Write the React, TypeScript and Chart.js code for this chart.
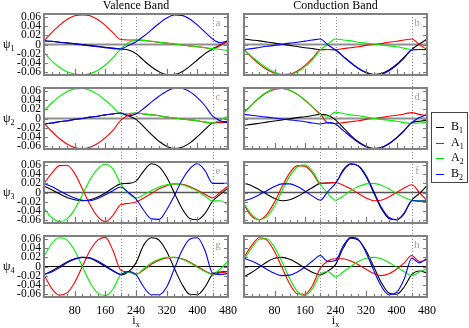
import React, { useEffect, useRef } from 'react';
import { Chart, registerables } from 'chart.js';
Chart.register(...registerables);

// ---------- data ----------
const ix = [0, 20, 40, 60, 80, 100, 120, 140, 160, 180, 200, 220, 240, 260, 280, 300, 320, 340, 360, 380, 400, 420, 440, 460, 480];
const xTicks = [80, 160, 240, 320, 400, 480];
const yTicks = [-0.06, -0.04, -0.02, 0, 0.02, 0.04, 0.06];
const markers = [200, 240, 440];
const seriesNames = ['B1', 'A1', 'A2', 'B2'];
const seriesColors = ['#000000', '#ff0000', '#00ee00', '#0000ff'];
const legendLabels = [['B', '1'], ['A', '1'], ['A', '2'], ['B', '2']];
const columnTitles = ['Valence Band', 'Conduction Band'];
const panelLetters = ['a', 'b', 'c', 'd', 'e', 'f', 'g', 'h'];

// panel a (valence, psi1)
const aB1 = [0.008, 0.007, 0.005, 0.004, 0.002, 0.000, -0.002, -0.004, -0.006, -0.008, -0.010, -0.012, -0.020, -0.035, -0.049, -0.060, -0.066, -0.066, -0.060, -0.048, -0.034, -0.020, -0.010, -0.001, 0.008];
const aA1 = [0.008, 0.026, 0.042, 0.055, 0.063, 0.065, 0.063, 0.055, 0.042, 0.026, 0.011, 0.010, 0.010, 0.009, 0.007, 0.005, 0.003, 0.001, -0.001, -0.003, -0.005, -0.007, -0.010, -0.002, 0.007];
const aA2 = [-0.018, -0.036, -0.050, -0.060, -0.065, -0.066, -0.064, -0.057, -0.045, -0.029, -0.010, 0.004, 0.010, 0.009, 0.007, 0.005, 0.003, 0.001, -0.001, -0.003, -0.005, -0.007, -0.009, -0.011, -0.013];
const aB2 = [0.008, 0.007, 0.005, 0.003, 0.001, -0.001, -0.003, -0.005, -0.007, -0.009, -0.010, -0.002, 0.006, 0.018, 0.032, 0.046, 0.058, 0.065, 0.064, 0.056, 0.043, 0.027, 0.012, 0.004, 0.008];
// panel b (conduction, psi1)
const bB1 = [0.012, 0.010, 0.008, 0.0055, 0.003, 0.0005, -0.002, -0.0045, -0.007, -0.009, -0.011, -0.011, -0.012, -0.026, -0.040, -0.053, -0.062, -0.066, -0.064, -0.056, -0.044, -0.028, -0.011, 0.001, 0.012];
const bA1 = [-0.011, -0.028, -0.043, -0.055, -0.063, -0.066, -0.065, -0.058, -0.046, -0.030, -0.012, -0.011, -0.011, -0.009, -0.007, -0.005, -0.002, 0.000, 0.002, 0.005, 0.007, 0.010, 0.012, 0.000, -0.011];
const bA2 = [-0.012, -0.026, -0.040, -0.052, -0.061, -0.066, -0.066, -0.060, -0.049, -0.033, -0.012, 0.001, 0.012, 0.010, 0.008, 0.005, 0.003, 0.001, -0.001, -0.003, -0.005, -0.008, -0.011, -0.011, -0.012];
const bB2 = [-0.011, -0.009, -0.0065, -0.004, -0.002, 0.0005, 0.003, 0.005, 0.0075, 0.010, 0.012, -0.001, -0.012, -0.026, -0.040, -0.052, -0.061, -0.066, -0.065, -0.058, -0.046, -0.030, -0.012, -0.011, -0.011];
// panel c (valence, psi2)
const cB1 = [-0.012, -0.010, -0.007, -0.005, -0.002, 0.000, 0.003, 0.005, 0.008, 0.010, 0.012, 0.006, -0.002, -0.018, -0.035, -0.050, -0.061, -0.066, -0.063, -0.054, -0.040, -0.024, -0.010, -0.008, -0.006];
const cA1 = [-0.010, -0.028, -0.044, -0.056, -0.064, -0.066, -0.063, -0.055, -0.042, -0.026, -0.004, 0.007, 0.012, 0.010, 0.008, 0.006, 0.003, 0.001, -0.001, -0.003, -0.005, -0.008, -0.010, -0.009, -0.008];
const cA2 = [0.017, 0.034, 0.048, 0.059, 0.065, 0.066, 0.062, 0.053, 0.040, 0.025, 0.010, 0.011, 0.012, 0.010, 0.008, 0.006, 0.003, 0.001, -0.001, -0.003, -0.005, -0.008, -0.010, -0.003, 0.005];
const cB2 = [-0.012, -0.010, -0.007, -0.005, -0.002, 0.000, 0.003, 0.005, 0.008, 0.010, 0.012, 0.006, 0.010, 0.022, 0.036, 0.049, 0.060, 0.066, 0.066, 0.059, 0.046, 0.028, 0.005, -0.005, -0.009];
// panel d (conduction, psi2)
const dB1 = [-0.015, -0.013, -0.0105, -0.008, -0.0055, -0.003, -0.0005, 0.002, 0.004, 0.0065, 0.009, 0.007, -0.003, -0.020, -0.037, -0.051, -0.061, -0.066, -0.064, -0.056, -0.043, -0.027, -0.009, -0.006, -0.004];
const dA1 = [0.013, 0.030, 0.045, 0.057, 0.064, 0.066, 0.062, 0.053, 0.040, 0.025, 0.010, -0.010, -0.011, -0.009, -0.007, -0.005, -0.002, 0.000, 0.002, 0.005, 0.007, 0.010, 0.013, 0.009, 0.006];
const dA2 = [0.012, 0.030, 0.046, 0.058, 0.065, 0.066, 0.062, 0.053, 0.040, 0.025, 0.008, 0.005, 0.014, 0.011, 0.008, 0.006, 0.003, 0.000, -0.002, -0.004, -0.006, -0.009, -0.011, -0.010, -0.008];
const dB2 = [0.009, 0.007, 0.005, 0.003, 0.001, -0.001, -0.003, -0.005, -0.007, -0.010, -0.012, -0.009, -0.012, -0.026, -0.040, -0.053, -0.062, -0.066, -0.064, -0.055, -0.042, -0.026, -0.009, 0.002, 0.009];
// panel e (valence, psi3)
const eB1 = [0.014, 0.006, -0.003, -0.011, -0.016, -0.018, -0.016, -0.010, -0.001, 0.010, 0.019, 0.020, 0.025, 0.047, 0.063, 0.057, 0.034, -0.001, -0.035, -0.057, -0.060, -0.046, -0.019, -0.004, 0.010];
const eA1 = [0.020, 0.042, 0.059, 0.060, 0.042, 0.008, -0.027, -0.053, -0.064, -0.050, -0.027, -0.024, -0.021, -0.012, -0.002, 0.008, 0.015, 0.019, 0.018, 0.013, 0.005, -0.004, -0.012, 0.001, 0.014];
const eA2 = [-0.035, -0.055, -0.064, -0.058, -0.037, -0.005, 0.028, 0.052, 0.062, 0.052, 0.019, -0.002, -0.012, -0.005, 0.004, 0.012, 0.017, 0.019, 0.017, 0.011, 0.003, -0.008, -0.019, -0.018, -0.027];
const eB2 = [0.020, 0.013, 0.004, -0.005, -0.012, -0.017, -0.018, -0.013, -0.005, 0.004, 0.012, 0.000, -0.014, -0.039, -0.058, -0.059, -0.038, -0.007, 0.027, 0.052, 0.063, 0.048, 0.020, 0.020, 0.020];
// panel f (conduction, psi3)
const fB1 = [0.020, 0.015, 0.006, -0.004, -0.013, -0.018, -0.016, -0.009, 0.001, 0.011, 0.020, 0.021, 0.022, 0.050, 0.063, 0.058, 0.035, 0.000, -0.035, -0.057, -0.060, -0.045, -0.017, -0.002, 0.015];
const fA1 = [-0.027, -0.052, -0.060, -0.048, -0.021, 0.013, 0.043, 0.059, 0.058, 0.042, 0.020, 0.021, 0.022, 0.016, 0.008, -0.002, -0.012, -0.018, -0.017, -0.010, 0.000, 0.010, 0.017, 0.000, -0.018];
const fA2 = [-0.025, -0.048, -0.060, -0.053, -0.030, 0.004, 0.036, 0.056, 0.061, 0.046, 0.018, -0.002, -0.017, -0.008, 0.004, 0.013, 0.019, 0.020, 0.016, 0.008, -0.002, -0.011, -0.017, -0.018, -0.018];
const fB2 = [-0.018, -0.013, -0.005, 0.004, 0.013, 0.019, 0.019, 0.013, 0.003, -0.008, -0.017, 0.002, 0.020, 0.047, 0.062, 0.059, 0.038, 0.003, -0.032, -0.055, -0.060, -0.047, -0.018, -0.019, -0.019];
// panel g (valence, psi4)
const gB1 = [-0.018, -0.010, 0.000, 0.010, 0.017, 0.020, 0.018, 0.010, 0.000, -0.010, -0.018, -0.012, 0.008, 0.047, 0.063, 0.058, 0.033, -0.004, -0.039, -0.061, -0.062, -0.045, -0.017, -0.012, -0.011];
const gA1 = [-0.018, -0.048, -0.063, -0.058, -0.035, 0.000, 0.035, 0.058, 0.064, 0.035, -0.008, -0.012, -0.017, -0.008, 0.005, 0.014, 0.019, 0.020, 0.017, 0.010, 0.000, -0.010, -0.017, -0.014, -0.011];
const gA2 = [0.022, 0.050, 0.063, 0.058, 0.035, 0.000, -0.035, -0.058, -0.064, -0.050, -0.018, -0.012, -0.018, -0.005, 0.008, 0.016, 0.020, 0.020, 0.016, 0.008, -0.002, -0.011, -0.017, -0.005, 0.011];
const gB2 = [-0.018, -0.012, -0.003, 0.008, 0.016, 0.020, 0.019, 0.012, 0.002, -0.009, -0.017, -0.011, -0.018, -0.045, -0.062, -0.062, -0.045, -0.005, 0.035, 0.060, 0.063, 0.035, -0.015, -0.018, -0.015];
// panel h (conduction, psi4)
const hB1 = [-0.022, -0.013, -0.002, 0.010, 0.018, 0.020, 0.016, 0.007, -0.004, -0.013, -0.018, -0.010, 0.004, 0.040, 0.062, 0.058, 0.035, 0.000, -0.035, -0.058, -0.061, -0.045, -0.018, -0.010, -0.014];
const hA1 = [0.020, 0.046, 0.063, 0.058, 0.033, -0.003, -0.038, -0.060, -0.061, -0.041, -0.004, 0.012, 0.017, 0.017, 0.012, 0.004, -0.006, -0.015, -0.020, -0.016, -0.006, 0.008, 0.024, 0.011, 0.015];
const hA2 = [0.015, 0.040, 0.060, 0.061, 0.042, 0.010, -0.027, -0.055, -0.064, -0.048, -0.017, -0.011, -0.023, -0.012, 0.000, 0.011, 0.018, 0.020, 0.017, 0.009, -0.001, -0.011, -0.020, -0.012, -0.004];
const hB2 = [0.018, 0.012, 0.004, -0.006, -0.015, -0.020, -0.019, -0.012, -0.001, 0.012, 0.024, 0.011, 0.013, 0.045, 0.064, 0.059, 0.031, -0.008, -0.043, -0.062, -0.057, -0.028, 0.018, 0.008, 0.018];

const panelData = [
  [aB1, aA1, aA2, aB2], [bB1, bA1, bA2, bB2],
  [cB1, cA1, cA2, cB2], [dB1, dA1, dA2, dB2],
  [eB1, eA1, eA2, eB2], [fB1, fA1, fA2, fB2],
  [gB1, gA1, gA2, gB2], [hB1, hA1, hA2, hB2],
];

// ---------- layout ----------
const W = 469;
const H = 328;
const colLeft = [44, 244];
const colRight = [228, 427];
const rowTop = [14, 88, 162, 236];
const rowH = 61;
const yAxisW = 44;
const xAxisH = 20;
const SERIF = "'Liberation Serif', 'Times New Roman', serif";

function Panel({ idx }: { idx: number }) {
  const ref = useRef<HTMLCanvasElement>(null);
  useEffect(() => {
    const row = Math.floor(idx / 2);
    const col = idx % 2;
    const top = rowTop[row];
    const bottom = top + rowH;
    const isBottom = row === 3;
    const showY = col === 0;
    const padding = {
      left: showY ? colLeft[0] - yAxisW : colLeft[1],
      right: W - colRight[col],
      top,
      bottom: isBottom ? H - bottom - xAxisH : H - bottom,
    };
    const decor = {
      id: 'decor' + idx,
      beforeDatasetsDraw(chart: any) {
        const { ctx, chartArea } = chart;
        const xs = chart.scales.x;
        const ys = chart.scales.y;
        ctx.save();
        if (row === 0) {
          ctx.strokeStyle = '#8a8a8a';
          ctx.lineWidth = 1;
          ctx.setLineDash([1, 2]);
          const yEnd = rowTop[3] + rowH;
          markers.forEach((m) => {
            const px = Math.round(xs.getPixelForValue(m)) + 0.5;
            ctx.beginPath();
            ctx.moveTo(px, chartArea.top);
            ctx.lineTo(px, yEnd);
            ctx.stroke();
          });
          ctx.setLineDash([]);
        }
        const y0 = ys.getPixelForValue(0);
        ctx.strokeStyle = row < 2 ? '#909090' : row === 2 ? '#555' : '#000';
        ctx.lineWidth = row < 2 ? 2 : row === 2 ? 1.5 : 1.2;
        ctx.beginPath();
        ctx.moveTo(chartArea.left, y0);
        ctx.lineTo(chartArea.right, y0);
        ctx.stroke();
        ctx.restore();
      },
      afterDatasetsDraw(chart: any) {
        const { ctx, chartArea } = chart;
        const xs = chart.scales.x;
        const ys = chart.scales.y;
        const { left, right, top: t, bottom: b } = chartArea;
        ctx.save();
        ctx.strokeStyle = '#7a7a7a';
        ctx.lineWidth = 1.2;
        ctx.beginPath();
        yTicks.forEach((v) => {
          const py = Math.round(ys.getPixelForValue(v)) + 0.5;
          ctx.moveTo(left, py);
          ctx.lineTo(left + 4, py);
          ctx.moveTo(right, py);
          ctx.lineTo(right - 4, py);
        });
        for (let v = 20; v < 480; v += 20) {
          const px = Math.round(xs.getPixelForValue(v)) + 0.5;
          const len = v % 80 === 0 ? 6 : 3;
          ctx.moveTo(px, b);
          ctx.lineTo(px, b - len);
        }
        ctx.stroke();
        ctx.strokeStyle = '#808080';
        ctx.lineWidth = 2;
        ctx.strokeRect(left, t, right - left, b - t);
        ctx.fillStyle = '#c09595';
        ctx.font = `11px ${SERIF}`;
        ctx.textAlign = 'center';
        ctx.textBaseline = 'middle';
        ctx.fillText(panelLetters[idx], xs.getPixelForValue(454), t + 9);
        ctx.restore();
      },
    };
    const chart = new Chart(ref.current as HTMLCanvasElement, {
      type: 'line',
      data: {
        datasets: panelData[idx].map((arr, si) => ({
          label: seriesNames[si],
          data: ix.map((x, i) => ({ x, y: arr[i] })),
          borderColor: seriesColors[si],
          backgroundColor: seriesColors[si],
          borderWidth: 1.1,
          pointRadius: 0,
          cubicInterpolationMode: 'monotone' as const,
          fill: false,
          order: 3 - si,
        })),
      },
      options: {
        responsive: false,
        maintainAspectRatio: false,
        animation: false,
        events: [],
        layout: { padding },
        plugins: { legend: { display: false }, tooltip: { enabled: false } },
        scales: {
          x: {
            type: 'linear',
            min: 0,
            max: 480,
            display: isBottom,
            afterBuildTicks: (s: any) => { s.ticks = xTicks.map((v) => ({ value: v })); },
            afterFit: (s: any) => { s.height = isBottom ? xAxisH : 0; },
            grid: { display: false, drawTicks: false },
            border: { display: false },
            ticks: { font: { family: SERIF, size: 12 }, color: '#000', padding: 7, autoSkip: false, maxRotation: 0, callback: (v: any) => String(v) },
          },
          y: {
            type: 'linear',
            min: -0.067,
            max: 0.067,
            display: showY,
            afterBuildTicks: (s: any) => { s.ticks = yTicks.map((v) => ({ value: v })); },
            afterFit: (s: any) => { s.width = showY ? yAxisW : 0; },
            grid: { display: false, drawTicks: false },
            border: { display: false },
            ticks: {
              font: { family: SERIF, size: 11.5 }, color: '#000', padding: 3, autoSkip: false,
              callback: (v: any) => (Math.abs(v) < 1e-9 ? '0' : Number(v).toFixed(2)),
            },
          },
        },
      },
      plugins: [decor],
    } as any);
    return () => chart.destroy();
  }, [idx]);
  return (
    <canvas
      ref={ref}
      width={W}
      height={H}
      style={{ position: 'absolute', left: 0, top: 0, width: W, height: H }}
    />
  );
}

export default function App() {
  const text: React.CSSProperties = { position: 'absolute', fontFamily: SERIF, color: '#000', whiteSpace: 'nowrap' };
  return (
    <div style={{ position: 'absolute', left: 0, top: 0, width: W, height: H, background: '#fff', overflow: 'hidden' }}>
      {panelData.map((_, i) => <Panel key={i} idx={i} />)}
      {columnTitles.map((t, c) => (
        <div key={t} style={{ ...text, left: colLeft[c], width: colRight[c] - colLeft[c], top: -1, fontSize: 12, lineHeight: '12px', textAlign: 'center' }}>{t}</div>
      ))}
      {rowTop.map((t, r) => (
        <div key={r} style={{ ...text, left: 3, top: t + rowH / 2 - 9, fontSize: 12, lineHeight: '16px' }}>
          ψ<sub style={{ fontSize: 8 }}>{r + 1}</sub>
        </div>
      ))}
      {[0, 1].map((c) => (
        <div key={c} style={{ ...text, left: colLeft[c], width: colRight[c] - colLeft[c], top: 314, fontSize: 12, lineHeight: '12px', textAlign: 'center' }}>
          i<sub style={{ fontSize: 8 }}>x</sub>
        </div>
      ))}
      <div style={{ position: 'absolute', left: 431, top: 112, width: 37, height: 71, border: '1px solid #444', boxSizing: 'border-box', background: '#fff' }} />
      {legendLabels.map((l, i) => (
        <React.Fragment key={i}>
          <div style={{ position: 'absolute', left: 436, top: 127 + i * 15.5, width: 8, height: 1, background: seriesColors[i] }} />
          <div style={{ ...text, left: 451, top: 127 + i * 15.5 - 8, fontSize: 12, lineHeight: '14px' }}>
            {l[0]}<sub style={{ fontSize: 8 }}>{l[1]}</sub>
          </div>
        </React.Fragment>
      ))}
    </div>
  );
}
